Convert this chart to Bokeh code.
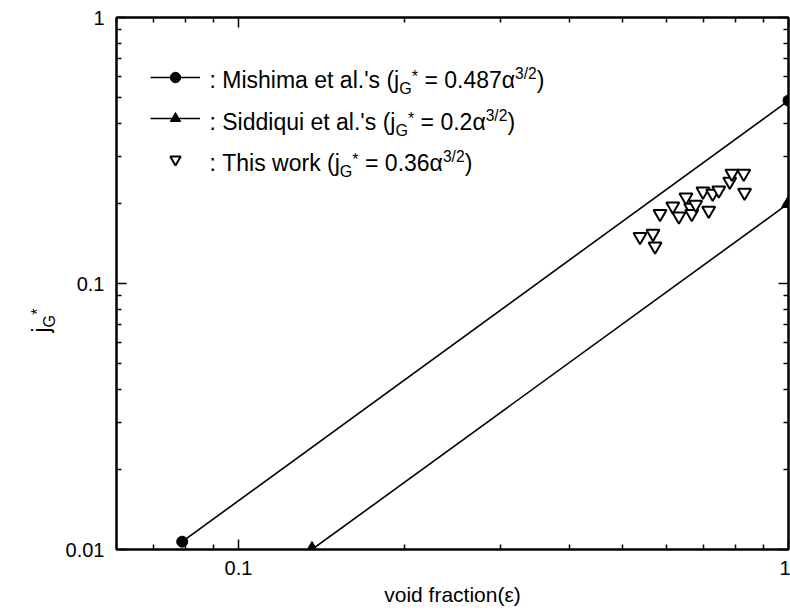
from bokeh.plotting import figure
from bokeh.models import LogAxis, FixedTicker, Label, Legend, LegendItem, Range1d
from bokeh.embed import file_html
from bokeh.resources import INLINE
import math

# ---------------- data ----------------
mishima_alpha = [0.079, 1.0]
mishima_jg = [0.0107, 0.487]

siddiqui_alpha = [0.136, 1.0]
siddiqui_jg = [0.01, 0.2]

work_alpha = [0.537, 0.567, 0.572, 0.584, 0.616, 0.632, 0.651, 0.664, 0.667,
              0.678, 0.699, 0.716, 0.728, 0.747, 0.782, 0.789, 0.829, 0.832]
work_jg = [0.150, 0.154, 0.138, 0.183, 0.195, 0.179, 0.211, 0.193, 0.183,
           0.198, 0.222, 0.188, 0.218, 0.224, 0.242, 0.259, 0.259, 0.220]

x_major = [0.1, 1.0]
x_minor = [0.06, 0.07, 0.08, 0.09, 0.2, 0.3, 0.4, 0.5, 0.6, 0.7, 0.8, 0.9]
y_major = [0.01, 0.1, 1.0]
y_minor = [0.02, 0.03, 0.04, 0.05, 0.06, 0.07, 0.08, 0.09,
           0.2, 0.3, 0.4, 0.5, 0.6, 0.7, 0.8, 0.9]
x_tick_labels = {0.1: "0.1", 1.0: "1"}
y_tick_labels = {0.01: "0.01", 0.1: "0.1", 1.0: "1"}

NB = "\u00a0"  # non-breaking space (SVG text drops plain leading spaces)
x_title = "void fraction(ε)"
legend_rows = [
    [(":" + NB + "Mishima et al.'s (j", "main"), ("G", "sub"), ("*", "sup"),
     (NB + "=" + NB + "0.487α", "main"), ("3/2", "sup2"), (")", "main")],
    [(":" + NB + "Siddiqui et al.'s (j", "main"), ("G", "sub"), ("*", "sup"),
     (NB + "=" + NB + "0.2α", "main"), ("3/2", "sup2"), (")", "main")],
    [(":" + NB + "This work (j", "main"), ("G", "sub"), ("*", "sup"),
     (NB + "=" + NB + "0.36α", "main"), ("3/2", "sup2"), (")", "main")],
]
y_title = [("j", "main"), ("G", "sub"), ("*", "sup")]

FONT = "Liberation Sans"
X_LO, X_HI = 0.06, 1.0
Y_LO, Y_HI = 0.01, 1.0

# ---------------- figure ----------------
p = figure(width=790, height=613, x_axis_type="log", y_axis_type="log",
           x_range=Range1d(X_LO, X_HI), y_range=Range1d(Y_LO, Y_HI),
           output_backend="svg", toolbar_location=None,
           min_border_left=114, min_border_right=2,
           min_border_top=17, min_border_bottom=64)
p.xgrid.visible = False
p.ygrid.visible = False
p.outline_line_color = "black"
p.outline_line_width = 2
p.background_fill_color = "white"
p.border_fill_color = "white"

# frame geometry on the canvas (used only to place decorative text)
FL, FR, FT, FB = 114, 788, 17, 549


def sx_to_data(px):
    lo, hi = math.log10(X_LO), math.log10(X_HI)
    return 10 ** (lo + (px - FL) / (FR - FL) * (hi - lo))


def sy_to_data(py):
    lo, hi = math.log10(Y_LO), math.log10(Y_HI)
    return 10 ** (lo + (FB - py) / (FB - FT) * (hi - lo))


def style_axis(ax, major, minor, labels, standoff):
    ax.ticker = FixedTicker(ticks=major, minor_ticks=minor)
    ax.major_tick_in = 10
    ax.major_tick_out = 0
    ax.minor_tick_in = 5
    ax.minor_tick_out = 0
    ax.axis_line_width = 2
    ax.axis_line_color = "black"
    ax.major_tick_line_width = 1.5
    ax.minor_tick_line_width = 1.5
    ax.major_tick_line_color = "black"
    ax.minor_tick_line_color = "black"
    if labels is None:
        ax.major_label_overrides = {t: "" for t in major}
        ax.major_label_text_font_size = "0px"
        ax.major_label_standoff = 0
    else:
        ax.major_label_overrides = labels
        ax.major_label_text_font = FONT
        ax.major_label_text_font_size = "20px"
        ax.major_label_text_color = "black"
        ax.major_label_standoff = standoff


style_axis(p.xaxis[0], x_major, x_minor, x_tick_labels, 11)
style_axis(p.yaxis[0], y_major, y_minor, y_tick_labels, 12)
p.xaxis[0].axis_label = x_title
p.xaxis[0].axis_label_text_font = FONT
p.xaxis[0].axis_label_text_font_size = "21px"
p.xaxis[0].axis_label_text_font_style = "normal"
p.xaxis[0].axis_label_text_color = "black"
p.xaxis[0].axis_label_standoff = 5

top_ax = LogAxis()
style_axis(top_ax, x_major, x_minor, None, 0)
p.add_layout(top_ax, "above")
right_ax = LogAxis()
style_axis(right_ax, y_major, y_minor, None, 0)
p.add_layout(right_ax, "right")

# ---------------- marks ----------------
l1 = p.line(mishima_alpha, mishima_jg, line_color="black", line_width=1.6)
s1 = p.scatter(mishima_alpha, mishima_jg, marker="circle", size=11,
               fill_color="black", line_color="black")
l2 = p.line(siddiqui_alpha, siddiqui_jg, line_color="black", line_width=1.6)
s2 = p.scatter(siddiqui_alpha, siddiqui_jg, marker="triangle", size=14,
               fill_color="black", line_color="black")
s3 = p.scatter(work_alpha, work_jg, marker="inverted_triangle", size=13,
               fill_color="white", line_color="black", line_width=2)

legend = Legend(items=[LegendItem(label=" ", renderers=[l1, s1]),
                       LegendItem(label=" ", renderers=[l2, s2]),
                       LegendItem(label=" ", renderers=[s3])],
                location=(34, 377), glyph_width=50, glyph_height=26,
                label_height=26, label_width=0, label_standoff=0,
                label_text_font_size="8px", spacing=15, padding=0, margin=0,
                border_line_color=None, background_fill_alpha=0)
p.add_layout(legend)

# ---------------- rich text (sub/superscripts) ----------------
WID = {' ': 278, NB: 278, ':': 278, "'": 191, '(': 333, ')': 333, '*': 389,
       '.': 278, '/': 278, '=': 584, 'G': 778, 'M': 833, 'S': 667, 'T': 611,
       'a': 556, 'd': 556, 'e': 556, 'h': 556, 'i': 222, 'j': 222, 'k': 500,
       'l': 222, 'm': 833, 'o': 556, 'q': 556, 'r': 333, 's': 500, 't': 278,
       'u': 556, 'w': 722, 'α': 578}
for c in "0123456789":
    WID[c] = 556


def text_width(s, size):
    return sum(WID.get(c, 556) for c in s) * size / 1000.0


ROLE = {"main": (1.0, 0.0, 0.0), "sub": (0.7, -0.36, 0.0),
        "sup": (0.7, 0.15, 0.0), "sup2": (0.68, 0.28, 0.0)}


def rich_h(x0, y0, segs, main):
    # inside the frame: screen units relative to the frame
    pos = 0.0
    for txt, role in segs:
        k, dy, extra = ROLE[role]
        size = main * k
        p.add_layout(Label(x=x0 + pos, y=y0 + dy * main, x_units="screen",
                           y_units="screen", text=txt, text_font=FONT,
                           text_font_size=f"{size:.1f}px", text_color="black",
                           text_align="left", text_baseline="alphabetic"))
        pos += text_width(txt, size) + extra * main


def rich_v(px0, py0, segs, main):
    # outside the frame (left panel): positioned through the plot's scales
    pos = 0.0
    for txt, role in segs:
        k, dy, extra = ROLE[role]
        size = main * k
        lab = Label(x=sx_to_data(px0 - dy * main), y=sy_to_data(py0 - pos),
                    text=txt, angle=math.pi / 2, text_font=FONT,
                    text_font_size=f"{size:.1f}px", text_color="black",
                    text_align="left", text_baseline="alphabetic")
        p.add_layout(lab, "left")
        pos += text_width(txt, size) + extra * main


row_base = [470, 428, 387]
for segs, yb in zip(legend_rows, row_base):
    rich_h(93, yb, segs, 23)

rich_v(38, 332, y_title, 23)

open("out.html", "w").write(file_html(p, INLINE))
